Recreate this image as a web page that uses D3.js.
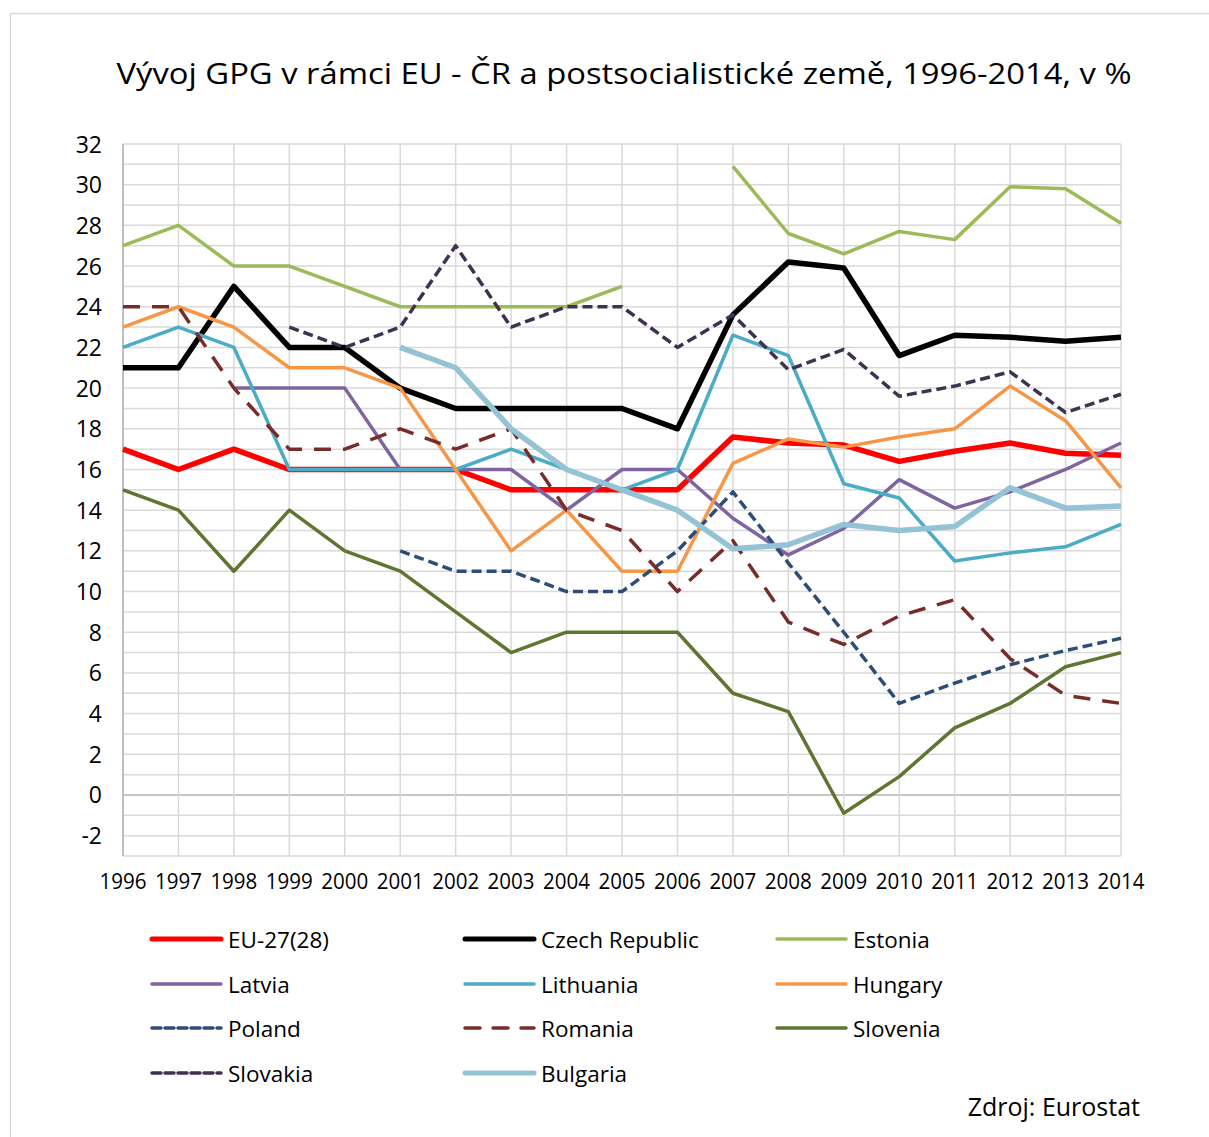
<!DOCTYPE html>
<html>
<head>
<meta charset="utf-8">
<script src="https://cdn.jsdelivr.net/npm/d3@7"></script>
<style>
  body { margin: 0; background: #fff; }
  text { font-family: "Open Sans", "Noto Sans", sans-serif; fill: #000; }
</style>
</head>
<body>
<div class="graph"></div>
<script>

var years = [1996,1997,1998,1999,2000,2001,2002,2003,2004,2005,2006,2007,2008,2009,2010,2011,2012,2013,2014];
var yTicks = [-2,0,2,4,6,8,10,12,14,16,18,20,22,24,26,28,30,32];

var dataEU = [17,16,17,16,16,16,16,15,15,15,15,17.6,17.3,17.2,16.4,16.9,17.3,16.8,16.7];
var dataCzech = [21,21,25,22,22,20,19,19,19,19,18,23.6,26.2,25.9,21.6,22.6,22.5,22.3,22.5];
var dataEstonia = [27,28,26,26,25,24,24,24,24,25,null,30.9,27.6,26.6,27.7,27.3,29.9,29.8,28.1];
var dataLatvia = [null,null,20,20,20,16,16,16,14,16,16,13.6,11.8,13.1,15.5,14.1,14.9,16.0,17.3];
var dataLithuania = [22,23,22,16,16,16,16,17,16,15,16,22.6,21.6,15.3,14.6,11.5,11.9,12.2,13.3];
var dataHungary = [23,24,23,21,21,20,16,12,14,11,11,16.3,17.5,17.1,17.6,18.0,20.1,18.4,15.1];
var dataPoland = [null,null,null,null,null,12,11,11,10,10,12,14.9,11.4,8.0,4.5,5.5,6.4,7.1,7.7];
var dataRomania = [24,24,20,17,17,18,17,18,14,13,10,12.5,8.5,7.4,8.8,9.6,6.7,4.9,4.5];
var dataSlovenia = [15,14,11,14,12,11,9,7,8,8,8,5.0,4.1,-0.9,0.9,3.3,4.5,6.3,7.0];
var dataSlovakia = [null,null,null,23,22,23,27,23,24,24,22,23.6,20.9,21.9,19.6,20.1,20.8,18.8,19.7];
var dataBulgaria = [null,null,null,null,null,22,21,18,16,15,14,12.1,12.3,13.3,13.0,13.2,15.1,14.1,14.2];

var seriesNames = ["EU-27(28)","Czech Republic","Estonia","Latvia","Lithuania","Hungary","Poland","Romania","Slovenia","Slovakia","Bulgaria"];
var seriesData = [dataEU,dataCzech,dataEstonia,dataLatvia,dataLithuania,dataHungary,dataPoland,dataRomania,dataSlovenia,dataSlovakia,dataBulgaria];
var seriesColor = ["#ff0000","#000000","#9bbb59","#8064a2","#4bacc6","#f79646","#2c4d75","#772c2a","#5f7530","#403152","#93c3d4"];
var seriesWidth = [5.5,5.5,3.5,3.5,3.5,3.5,3.5,3.5,3.5,3.5,5.5];
var seriesDash = [null,null,null,null,null,null,"10,5","17,12",null,"10,5",null];

var svg = d3.select(".graph")
   .append("svg")
   .attr("width", 1209)
   .attr("height", 1137);

// outer chart border
svg.append("rect")
   .attr("x", 10.5).attr("y", 13.5)
   .attr("width", 1220).attr("height", 1140)
   .attr("fill", "none")
   .attr("stroke", "#d9d9d9")
   .attr("stroke-width", 1.5);

var x = d3.scaleLinear().domain([1996, 2014]).range([123, 1121]);
var y = d3.scaleLinear().domain([-3, 32]).range([856, 144]);

// gridlines (every 1 unit horizontally, every year vertically)
svg.append("g").selectAll("line")
   .data(d3.range(-3, 33))
   .enter().append("line")
   .attr("x1", x(1996)).attr("x2", x(2014))
   .attr("y1", function(d){ return y(d); })
   .attr("y2", function(d){ return y(d); })
   .attr("stroke", function(d){ return d == 0 ? "#b3b3b3" : "#d9d9d9"; })
   .attr("stroke-width", 1.5);

svg.append("g").selectAll("line")
   .data(years.slice(1))
   .enter().append("line")
   .attr("x1", function(d){ return x(d); })
   .attr("x2", function(d){ return x(d); })
   .attr("y1", y(32)).attr("y2", y(-3))
   .attr("stroke", "#d9d9d9")
   .attr("stroke-width", 1.5);

// left axis line
svg.append("line")
   .attr("x1", x(1996)).attr("x2", x(1996))
   .attr("y1", y(32)).attr("y2", y(-3))
   .attr("stroke", "#bfbfbf")
   .attr("stroke-width", 2);

// y tick labels
svg.append("g").selectAll("text")
   .data(yTicks)
   .enter().append("text")
   .attr("x", 102)
   .attr("y", function(d){ return y(d) + 8.5; })
   .attr("text-anchor", "end")
   .attr("font-size", "23px")
   .text(function(d){ return d; });

// x tick labels
svg.append("g").selectAll("text")
   .data(years)
   .enter().append("text")
   .attr("x", function(d){ return x(d); })
   .attr("y", 889)
   .attr("text-anchor", "middle")
   .attr("font-size", "21px")
   .attr("textLength", 47)
   .attr("lengthAdjust", "spacingAndGlyphs")
   .text(function(d){ return d; });

// title
svg.append("text")
   .attr("x", 624)
   .attr("y", 84)
   .attr("text-anchor", "middle")
   .attr("font-size", "30px")
   .attr("textLength", 1015)
   .attr("lengthAdjust", "spacingAndGlyphs")
   .text("Vývoj GPG v rámci EU - ČR a postsocialistické země, 1996-2014, v %");

// series lines
var line = d3.line()
   .defined(function(d){ return d[1] !== null; })
   .x(function(d){ return x(d[0]); })
   .y(function(d){ return y(d[1]); });

svg.append("g").selectAll("path")
   .data(seriesData)
   .enter().append("path")
   .attr("d", function(d){
      return line(d.map(function(v, i){ return [years[i], v]; }));
   })
   .attr("fill", "none")
   .attr("stroke", function(d, i){ return seriesColor[i]; })
   .attr("stroke-width", function(d, i){ return seriesWidth[i]; })
   .attr("stroke-dasharray", function(d, i){ return seriesDash[i]; })
   .attr("stroke-linejoin", "round");

// legend
var legendCols = [152, 465, 777];
var legendRows = [939, 984, 1028, 1073];

var legend = svg.append("g").selectAll("g")
   .data(seriesNames)
   .enter().append("g")
   .attr("transform", function(d, i){
      return "translate(" + legendCols[i % 3] + "," + legendRows[Math.floor(i / 3)] + ")";
   });

legend.append("line")
   .attr("x1", 0).attr("x2", 69)
   .attr("y1", 0).attr("y2", 0)
   .attr("stroke", function(d, i){ return seriesColor[i]; })
   .attr("stroke-width", function(d, i){ return seriesWidth[i] > 5 ? 5 : 3.5; })
   .attr("stroke-dasharray", function(d, i){ return seriesDash[i] ? (i == 7 ? "15,13" : "9,4") : null; })
   .attr("stroke-linecap", "round");

legend.append("text")
   .attr("x", 76)
   .attr("y", 8.5)
   .attr("font-size", "22.5px")
   .text(function(d){ return d; });

svg.append("text")
   .attr("x", 1140)
   .attr("y", 1116)
   .attr("text-anchor", "end")
   .attr("font-size", "25px")
   .text("Zdroj: Eurostat");

</script>
</body>
</html>
